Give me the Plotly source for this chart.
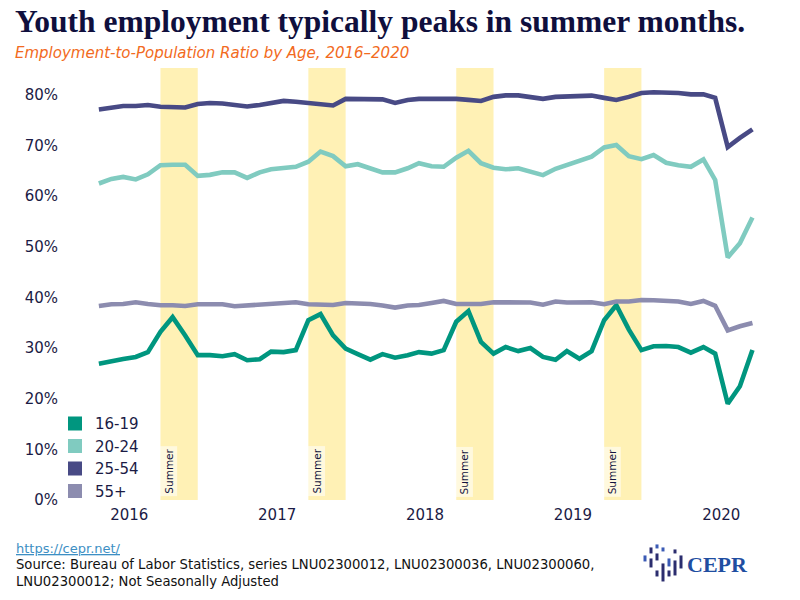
import pandas as pd
import plotly.graph_objects as go

# ---------------- data ----------------
months = pd.date_range("2016-01-01", "2020-06-01", freq="MS")

age_16_19 = [26.9, 27.45, 27.85, 28.25, 29.2, 33.2, 36.1, 32.5, 28.6, 28.6, 28.4, 28.8,
             27.6, 27.8, 29.3, 29.2, 29.6, 35.5, 36.7, 32.5, 29.9, 28.8, 27.7, 28.8,
             28.1, 28.6, 29.2, 28.9, 29.6, 35.2, 37.3, 31.2, 28.9, 30.2, 29.4, 30.0,
             28.25, 27.7, 29.4, 27.9, 29.4, 35.5, 38.45, 33.65, 29.6, 30.35, 30.4, 30.2,
             29.1, 30.2, 28.9, 19.0, 22.45, 29.6]
age_20_24 = [62.5, 63.4, 63.8, 63.3, 64.3, 66.1, 66.2, 66.2, 64.0, 64.2, 64.7, 64.7,
             63.6, 64.7, 65.3, 65.6, 65.8, 66.8, 68.8, 67.9, 65.9, 66.3, 65.5, 64.7,
             64.7, 65.5, 66.5, 65.9, 65.8, 67.6, 68.95, 66.5, 65.6, 65.3, 65.5, 64.8,
             64.15, 65.4, 66.1, 66.9, 67.8, 69.6, 70.1, 67.9, 67.3, 68.1, 66.6, 66.1,
             65.8, 67.25, 63.2, 47.9, 50.7, 55.8]
age_25_54 = [77.1, 77.5, 77.8, 77.8, 78.0, 77.65, 77.5, 77.5, 78.2, 78.4, 78.3, 78.0,
             77.7, 78.0, 78.4, 78.8, 78.65, 78.4, 78.3, 77.9, 79.2, 79.2, 79.2, 79.1,
             78.4, 79.0, 79.2, 79.2, 79.4, 79.2, 79.0, 78.8, 79.6, 79.9, 79.9, 79.5,
             79.2, 79.6, 79.75, 79.85, 79.85, 79.4, 79.0, 79.6, 80.35, 80.5, 80.5, 80.35,
             80.1, 80.1, 79.4, 69.7, 71.5, 73.2]
age_55_plus = [38.3, 38.65, 38.7, 39.05, 38.7, 38.45, 38.45, 38.3, 38.65, 38.7, 38.65, 38.25,
               38.4, 38.65, 38.9, 39.05, 39.05, 38.65, 38.5, 38.5, 38.9, 38.85, 38.7, 38.4,
               38.0, 38.4, 38.5, 38.9, 39.3, 38.7, 38.65, 38.7, 39.05, 39.05, 39.1, 39.0,
               38.55, 39.2, 39.0, 39.05, 39.05, 38.65, 39.2, 39.2, 39.5, 39.45, 39.4, 39.2,
               38.7, 39.3, 38.35, 33.5, 34.3, 34.95]

series_names = ["16-19", "20-24", "25-54", "55+"]
series_values = [age_16_19, age_20_24, age_25_54, age_55_plus]
series_colors = ["#00967f", "#80cbc0", "#484a85", "#8c8caf"]

summer_starts = ["2016-06-01", "2017-06-01", "2018-06-01", "2019-06-01"]
summer_ends = ["2016-09-01", "2017-09-01", "2018-09-01", "2019-09-01"]
summer_label_x = ["2016-06-20", "2017-06-20", "2018-06-20", "2019-06-20"]

year_tick_vals = ["2016-03-16", "2017-03-16", "2018-03-16", "2019-03-16", "2020-03-16"]
year_tick_text = ["2016", "2017", "2018", "2019", "2020"]
y_tick_vals = [0, 10, 20, 30, 40, 50, 60, 70, 80]
y_tick_text = ["0%", "10%", "20%", "30%", "40%", "50%", "60%", "70%", "80%"]

# ---------------- layout helpers ----------------
W, H = 800, 600
PL, PR, PT, PB = 62, 780, 68, 499.6


def px_x(x):
    return (x - PL) / (PR - PL)


def px_y(y):
    return (PB - y) / (PB - PT)


NAVY = "#14143f"
TICK = "#1b1b45"

fig = go.Figure()

# real data lines (legend handled by square-marker proxies)
for name, vals, col in zip(series_names, series_values, series_colors):
    fig.add_trace(go.Scatter(
        x=months, y=vals, mode="lines", name=name,
        line=dict(color=col, width=4.6), showlegend=False,
    ))
for name, col in zip(series_names, series_colors):
    fig.add_trace(go.Scatter(
        x=[None], y=[None], mode="markers", name=name,
        marker=dict(symbol="square", size=14, color=col), showlegend=True,
    ))

shapes = []
for s, e in zip(summer_starts, summer_ends):
    shapes.append(dict(type="rect", xref="x", yref="paper", x0=s, x1=e, y0=0, y1=1,
                       fillcolor="#fff1b5", line=dict(width=0), layer="below"))

annotations = []
for lx in summer_label_x:
    annotations.append(dict(x=lx, y=0, xref="x", yref="y", text="Summer", showarrow=False,
                            textangle=-90, yanchor="bottom", xanchor="center", yshift=3,
                            font=dict(family="DejaVu Sans", size=10.5, color=NAVY),
                            bgcolor="rgba(255,255,255,0.55)", borderpad=2))

# title & subtitle
annotations.append(dict(x=px_x(13), y=px_y(22), xref="paper", yref="paper",
                        text="<b>Youth employment typically peaks in summer months.</b>",
                        showarrow=False, xanchor="left", yanchor="middle",
                        font=dict(family="Liberation Serif", size=31.5, color="#0f0f3d")))
annotations.append(dict(x=px_x(13), y=px_y(53), xref="paper", yref="paper",
                        text="Employment-to-Population Ratio by Age, 2016\u20132020",
                        showarrow=False, xanchor="left", yanchor="middle",
                        font=dict(family="DejaVu Sans", size=15,
                                  color="#f26a21", style="italic")))
# footer
annotations.append(dict(x=px_x(14), y=px_y(548), xref="paper", yref="paper",
                        text="<u>https://cepr.net/</u>", showarrow=False,
                        xanchor="left", yanchor="middle",
                        font=dict(family="DejaVu Sans", size=13, color="#3d8fc4")))
annotations.append(dict(x=px_x(14), y=px_y(555), xref="paper", yref="paper",
                        text="Source: Bureau of Labor Statistics, series LNU02300012, LNU02300036, LNU02300060,<br>LNU02300012; Not Seasonally Adjusted",
                        showarrow=False, xanchor="left", yanchor="top", align="left",
                        font=dict(family="DejaVu Sans", size=13.2, color="#111111")))
annotations.append(dict(x=px_x(717), y=px_y(564), xref="paper", yref="paper",
                        text="<b>CEPR</b>", showarrow=False, xanchor="center", yanchor="middle",
                        font=dict(family="Liberation Serif", size=22, color="#1f4ea1")))

# logo icon (decorative dashes)
logo = [
    (645, 555, 561, "#3b5bb5"),
    (651, 547, 553, "#2b2d6e"), (651, 558, 567, "#2b2d6e"),
    (657, 544, 548, "#3b5bb5"), (657, 553, 560, "#2b2d6e"), (657, 570, 576, "#2b2d6e"),
    (663, 547, 551, "#3b5bb5"), (663, 563, 581, "#2b2d6e"),
    (669, 558, 566, "#3b5bb5"), (669, 570, 576, "#2b2d6e"),
    (675, 549, 553, "#2b2d6e"), (675, 560, 575, "#2b2d6e"),
    (681, 555, 568, "#2b2d6e"),
]
for lx, ly0, ly1, c in logo:
    shapes.append(dict(type="line", xref="paper", yref="paper", x0=px_x(lx), x1=px_x(lx),
                       y0=px_y(ly0), y1=px_y(ly1), line=dict(color=c, width=3)))

fig.update_layout(
    width=W, height=H,
    margin=dict(l=PL, r=W - PR, t=PT, b=H - PB),
    plot_bgcolor="white", paper_bgcolor="white",
    shapes=shapes, annotations=annotations,
    showlegend=True,
    legend=dict(x=px_x(55), y=px_y(407), xanchor="left", yanchor="top",
                bgcolor="rgba(0,0,0,0)", font=dict(family="DejaVu Sans", size=15, color=TICK),
                tracegroupgap=0, itemclick=False),
    xaxis=dict(type="date", range=["2015-10-02", "2020-08-08"], tickvals=year_tick_vals,
               ticktext=year_tick_text, showgrid=False, zeroline=False, showline=False,
               ticks="", tickfont=dict(family="DejaVu Sans", size=15, color=TICK),
               ticklabelstandoff=4),
    yaxis=dict(range=[0, 85.3], tickvals=y_tick_vals, ticktext=y_tick_text, showgrid=False,
               zeroline=False, showline=False, ticks="", ticklabelstandoff=3,
               tickfont=dict(family="DejaVu Sans", size=15, color=TICK)),
)

fig.write_html("out.html")
